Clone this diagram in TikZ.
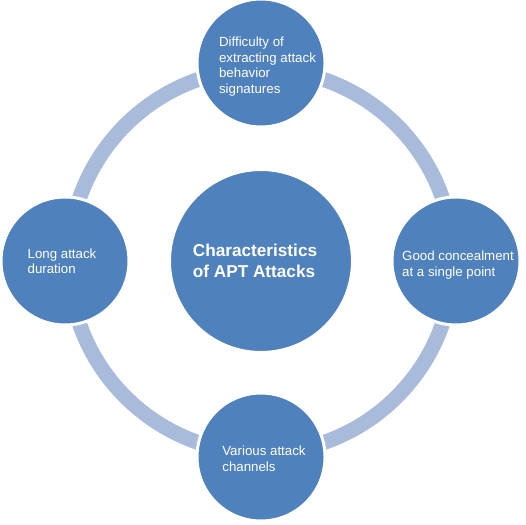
\documentclass[tikz,border=0pt]{standalone}
\usepackage{fontspec}
\setmainfont{Liberation Sans}
\usepackage{xcolor}
\usepackage{tikz}
\usetikzlibrary{positioning,calc}
\definecolor{aptblue}{RGB}{79,129,189}
\definecolor{aptring}{RGB}{168,187,219}

\begin{document}
\begin{tikzpicture}[x=1pt, y=-1pt,
  blob/.style={circle, fill=aptblue, draw=white, line width=3pt, inner sep=0pt, text=white, align=left},
  sat/.style={blob, minimum size=128pt, font=\fontsize{13.3}{15.5}\selectfont},
  hub/.style={blob, minimum size=183pt, font=\fontsize{17.2}{20.7}\selectfont\bfseries},
  ringline/.style={draw=aptring, line width=15pt}]
\useasboundingbox (0,0) rectangle (526,524);
\coordinate (mid) at (261,261);
\draw[ringline] (mid) circle[radius=192pt];
\node[hub] (ctr) at (mid) {\hspace*{-12pt}Characteristics\\\hspace*{-12pt}of APT Attacks};
\node[sat] (top) at (261,63) {\hspace*{13pt}\rule{0pt}{17pt}Difficulty of\\\hspace*{13pt}extracting attack\\\hspace*{13pt}behavior\\\hspace*{13pt}signatures};
\node[sat] (lft) at (65,261) {\hspace*{-6pt}Long attack\\\hspace*{-6pt}duration};
\node[sat] (rgt) at (456,261) {\hspace*{4pt}\rule{0pt}{17.5pt}Good concealment\\\hspace*{4pt}at a single point};
\node[sat] (btm) at (261,457) {\hspace*{6pt}\rule{0pt}{13pt}Various attack\\\hspace*{6pt}channels};
\end{tikzpicture}
\end{document}
